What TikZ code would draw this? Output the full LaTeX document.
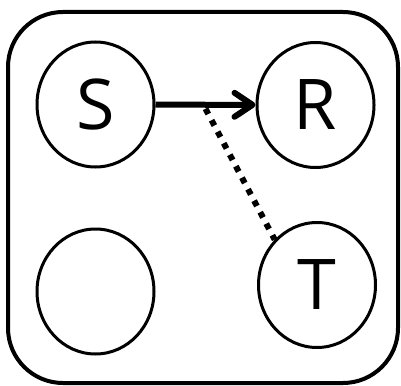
\documentclass[tikz,border=0pt]{standalone}
\usepackage{fontspec}
\setmainfont{Open Sans}
\usetikzlibrary{shapes.geometric,arrows.meta,calc}
\begin{document}
\begin{tikzpicture}[x=1pt,y=-1pt,
  var/.style={ellipse,draw,line width=3pt,minimum width=117pt,minimum height=125pt,inner sep=0pt,font=\fontsize{70}{70}\selectfont},
  frame/.style={draw,line width=4pt,rounded corners=55pt},
  edge/.style={line width=6pt,-{Straight Barb[length=18pt,width=24pt,round]}},
  dep/.style={line width=6pt,dash pattern=on 6pt off 7pt}]
\useasboundingbox (0,0) rectangle (401,385);
\draw[frame] (8,12) rectangle (398,383);
\node[var] (S) at (95.5,104.5) {S};
\node[var] (R) at (315.5,105) {R};
\node[var] (U) at (95.5,291.5) {};
\node[var] (T) at (317,285) {T};
\draw[edge] (S) -- (R);
\coordinate (m) at ($(S.east)!0.5!(R.west)+(0,4)$);
\draw[dep] (m) -- (T.133);
\end{tikzpicture}
\end{document}
